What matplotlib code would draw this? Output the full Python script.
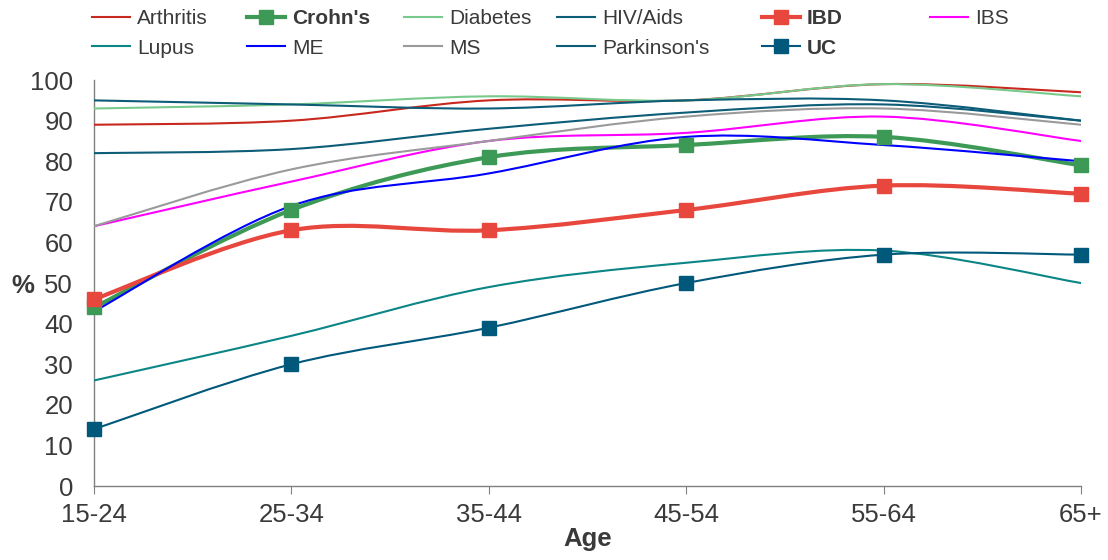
import matplotlib.pyplot as plt
from matplotlib.path import Path
from matplotlib.patches import PathPatch
from matplotlib.lines import Line2D

plt.rcParams['font.family'] = ['Liberation Sans', 'DejaVu Sans']

ages = ["15-24", "25-34", "35-44", "45-54", "55-64", "65+"]

arthritis = [89, 90, 95, 95, 99, 97]
crohns = [44, 68, 81, 84, 86, 79]
diabetes = [93, 94, 96, 95, 99, 96]
hiv_aids = [95, 94, 93, 95, 95, 90]
ibd = [46, 63, 63, 68, 74, 72]
ibs = [64, 75, 85, 87, 91, 85]
lupus = [26, 37, 49, 55, 58, 50]
me = [43, 69, 77, 86, 84, 80]
ms = [64, 78, 85, 91, 93, 89]
parkinsons = [82, 83, 88, 92, 94, 90]
uc = [14, 30, 39, 50, 57, 57]

# name, values, colour, line width, marker, bold label
series = [
    ("Arthritis", arthritis, "#c8281e", 1.5, None, False),
    ("Crohn's", crohns, "#3d9a56", 3.0, "s", True),
    ("Diabetes", diabetes, "#78c98c", 1.5, None, False),
    ("HIV/Aids", hiv_aids, "#0d5c78", 1.5, None, False),
    ("IBD", ibd, "#e8473d", 3.0, "s", True),
    ("IBS", ibs, "#ff00ff", 1.5, None, False),
    ("Lupus", lupus, "#0b8585", 1.5, None, False),
    ("ME", me, "#0000ff", 1.5, None, False),
    ("MS", ms, "#9a9a9a", 1.5, None, False),
    ("Parkinson's", parkinsons, "#0d5c78", 1.5, None, False),
    ("UC", uc, "#00587a", 1.5, "s", True),
]


def smooth_path(xs, ys):
    # Excel-like smoothed line: cubic bezier through every point
    pts = list(zip(xs, ys))
    n = len(pts)
    verts = [pts[0]]
    codes = [Path.MOVETO]
    for i in range(n - 1):
        p0 = pts[i - 1] if i > 0 else pts[i]
        p1 = pts[i]
        p2 = pts[i + 1]
        p3 = pts[i + 2] if i + 2 < n else pts[i + 1]
        c1 = (p1[0] + (p2[0] - p0[0]) / 6, p1[1] + (p2[1] - p0[1]) / 6)
        c2 = (p2[0] - (p3[0] - p1[0]) / 6, p2[1] - (p3[1] - p1[1]) / 6)
        verts += [c1, c2, p2]
        codes += [Path.CURVE4] * 3
    return Path(verts, codes)


fig = plt.figure(figsize=(11.08, 5.6), dpi=100)
ax = fig.add_axes([0.0848, 0.1321, 0.8908, 0.7249])

x = list(range(len(ages)))
handles = {}
for name, vals, col, lw, mk, bold in series:
    patch = PathPatch(smooth_path(x, vals), facecolor="none", edgecolor=col,
                      lw=lw, capstyle="round", joinstyle="round", zorder=3)
    ax.add_patch(patch)
    if mk:
        ax.plot(x, vals, linestyle="none", marker=mk, markersize=9.5,
                color=col, zorder=4, clip_on=False)
    handles[name] = Line2D([], [], color=col, lw=lw, marker=mk, markersize=9.5)

ax.set_xlim(0, len(ages) - 1)
ax.set_ylim(0, 100)
ax.set_xticks(x)
ax.set_xticklabels(ages)
ax.set_yticks(range(0, 101, 10))

txt = "#3a3a3a"
for s in ["top", "right"]:
    ax.spines[s].set_visible(False)
for s in ["left", "bottom"]:
    ax.spines[s].set_color("#808080")
    ax.spines[s].set_linewidth(1.0)
ax.tick_params(axis="x", direction="out", length=6, color="#808080",
               labelsize=18.5, labelcolor=txt, pad=6)
ax.tick_params(axis="y", length=0, labelsize=18.5, labelcolor=txt, pad=15)

ax.set_xlabel("Age", fontsize=18.5, fontweight="bold", color=txt, labelpad=0)
fig.text(0.021, 0.49, "%", fontsize=18.5, fontweight="bold", color=txt,
         ha="center", va="center")

# legend laid out as 6 columns, one small legend per column
columns = [["Arthritis", "Lupus"], ["Crohn's", "ME"], ["Diabetes", "MS"],
           ["HIV/Aids", "Parkinson's"], ["IBD", "UC"], ["IBS"]]
col_px = [89, 244, 401, 554, 759, 927]
bold_names = {n for n, *_rest, b in series if b}
for names, px in zip(columns, col_px):
    leg = fig.legend([handles[n] for n in names], names, loc="upper left",
                     bbox_to_anchor=(px / 1108, 0.989), borderaxespad=0,
                     borderpad=0.15, frameon=False, fontsize=15,
                     handlelength=1.8, handletextpad=0.35, labelspacing=0.5)
    for t in leg.get_texts():
        t.set_color(txt)
        if t.get_text() in bold_names:
            t.set_fontweight("bold")

fig.savefig("out.png", dpi=100)
